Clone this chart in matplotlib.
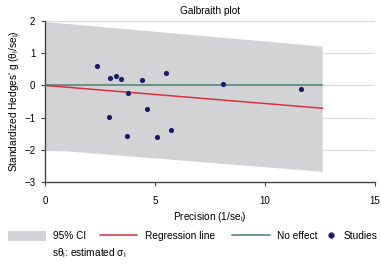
import matplotlib
matplotlib.use("Agg")
import matplotlib.pyplot as plt
import numpy as np
from matplotlib.patches import Patch
from matplotlib.lines import Line2D

plt.rcParams['font.family'] = ['Liberation Sans', 'DejaVu Sans']
plt.rcParams['mathtext.fontset'] = 'custom'
plt.rcParams['mathtext.rm'] = 'Liberation Sans'
plt.rcParams['mathtext.it'] = 'Liberation Sans'

# study data (precision, standardized effect)
precision = [2.38, 2.97, 3.24, 3.44, 4.40, 5.52, 3.76, 4.63, 2.91, 5.72, 3.74, 5.10, 8.10, 11.66]
std_effect = [0.60, 0.23, 0.30, 0.20, 0.16, 0.40, -0.23, -0.72, -0.98, -1.39, -1.57, -1.60, 0.03, -0.10]

# regression line
reg_x = [0, 12.6]
reg_y = [0.0, -0.71]

# 95% CI band
band_x = [0, 0.9, 12.6]
band_upper = [1.98, 1.93, 1.22]
band_lower = [-2.0, -2.03, -2.67]

xticks = [0, 5, 10, 15]
yticks = [-3, -2, -1, 0, 1, 2]

fig = plt.figure(figsize=(3.81, 2.66), dpi=100)
ax = fig.add_axes([0.118, 0.316, 0.866, 0.605])

for yv in [-2, -1, 1, 2]:
    ax.axhline(yv, color='#dcdcdc', lw=1, zorder=0)

ax.fill_between(band_x, band_lower, band_upper, color='#d3d3d5', lw=0, zorder=1)
ax.plot(reg_x, [0, 0], color='#4f7f6e', lw=1.1, zorder=2)
ax.axhline(0, xmin=reg_x[1] / 15, color='#dcdcdc', lw=1, zorder=0)
ax.plot(reg_x, reg_y, color='#d9303c', lw=1.1, zorder=3)
ax.scatter(precision, std_effect, s=14, color='#1c1a6e', zorder=4, linewidths=0)

ax.set_xlim(0, 15)
ax.set_ylim(-3, 2)
ax.set_xticks(xticks)
ax.set_yticks(yticks)
ax.tick_params(labelsize=7, length=3, width=0.8, color='#444444')
ax.tick_params(axis='x', pad=7)
ax.tick_params(axis='y', pad=4)
for s in ['top', 'right']:
    ax.spines[s].set_visible(False)
for s in ['left', 'bottom']:
    ax.spines[s].set_color('#444444')
    ax.spines[s].set_linewidth(1)

ax.set_title('Galbraith plot', fontsize=7.3, pad=5)
ax.set_ylabel(r"Standardized Hedges' g ($\theta_i$/se$_i$)", fontsize=7.3, labelpad=2)
ax.set_xlabel(r"Precision (1/se$_i$)", fontsize=7.3, labelpad=3)

# legend items placed one by one along the bottom
items = [
    (Patch(facecolor='#d3d3d5', edgecolor='none'), '95% CI', 0.021, 3.7),
    (Line2D([], [], color='#d9303c', lw=1.1), 'Regression line', 0.262, 3.7),
    (Line2D([], [], color='#4f7f6e', lw=1.1), 'No effect', 0.609, 3.7),
    (Line2D([], [], color='#1c1a6e', marker='o', ls='none', markersize=3.5), 'Studies', 0.856, 1.0),
]
for h, lab, xpos, hl in items:
    fig.legend([h], [lab], loc='center left', bbox_to_anchor=(xpos, 0.113),
               frameon=False, fontsize=7.3, handlelength=hl, handleheight=1.1,
               handletextpad=0.75, borderpad=0, borderaxespad=0)

fig.text(0.137, 0.035, r"s$\theta_i$: estimated $\sigma_i$", fontsize=7.3)

fig.savefig('out.png', dpi=100)
